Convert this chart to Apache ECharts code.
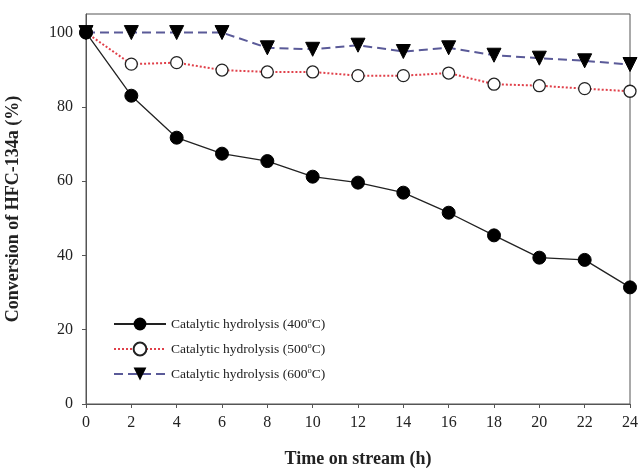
<!DOCTYPE html>
<html>
<head>
<meta charset="utf-8">
<script src="https://cdn.jsdelivr.net/npm/echarts@6/dist/echarts.min.js"></script>
<style>html,body{margin:0;padding:0;background:#fff}#c{width:640px;height:470px}</style>
</head>
<body>
<div id="c"></div>
<script>
var hours = [0, 2, 4, 6, 8, 10, 12, 14, 16, 18, 20, 22, 24];
var conv400 = [100, 83.0, 71.7, 67.4, 65.4, 61.2, 59.6, 56.9, 51.5, 45.4, 39.4, 38.8, 31.4];
var conv500 = [100, 91.5, 91.9, 89.9, 89.4, 89.4, 88.4, 88.4, 89.1, 86.1, 85.7, 84.9, 84.2];
var conv600 = [100, 100, 100, 100, 95.9, 95.5, 96.6, 94.9, 95.9, 93.9, 93.1, 92.4, 91.4];
var seriesNames = ['400', '500', '600'];
var yTicks = [0, 20, 40, 60, 80, 100];

function pairs(vals) { return hours.map(function (h, i) { return [h, vals[i]]; }); }
function legendName(t) { return 'Catalytic hydrolysis (' + t + '{sup|o}C)'; }

var serif = '"Liberation Serif","Times New Roman",serif';
var chart = echarts.init(document.getElementById('c'));
chart.setOption({
  animation: false,
  grid: { left: 86, right: 10, top: 14, bottom: 66, show: true, borderColor: '#555', borderWidth: 1, outerBoundsMode: 'none', containLabel: false },
  legend: {
    orient: 'vertical', left: 108, top: 311, itemWidth: 52, itemHeight: 16, itemGap: 9,
    data: seriesNames.map(legendName),
    textStyle: {
      fontFamily: serif, fontSize: 13.5, color: '#222', lineHeight: 16,
      rich: { sup: { fontFamily: serif, fontSize: 8.5, lineHeight: 10, verticalAlign: 'top', color: '#222' } }
    }
  },
  xAxis: {
    type: 'value', min: 0, max: 24, interval: 2,
    name: 'Time on stream (h)', nameLocation: 'middle', nameGap: 46,
    nameTextStyle: { fontFamily: serif, fontSize: 18, fontWeight: 'bold', color: '#222' },
    axisLine: { lineStyle: { color: '#555' } },
    axisTick: { inside: false, length: 4, lineStyle: { color: '#555' } },
    axisLabel: { fontFamily: serif, fontSize: 16, color: '#222', margin: 11 },
    splitLine: { show: false }
  },
  yAxis: {
    type: 'value', min: 0, max: 105,
    name: 'Conversion of HFC-134a (%)', nameLocation: 'middle', nameGap: 64,
    nameTextStyle: { fontFamily: serif, fontSize: 18, fontWeight: 'bold', color: '#222' },
    axisLine: { show: true, lineStyle: { color: '#555' } },
    axisTick: { show: true, length: 4, customValues: yTicks, lineStyle: { color: '#555' } },
    axisLabel: { fontFamily: serif, fontSize: 16, color: '#222', margin: 13, customValues: yTicks },
    splitLine: { show: false }
  },
  series: [
    {
      name: legendName('400'), type: 'line', data: pairs(conv400),
      symbol: 'circle', symbolSize: 13,
      itemStyle: { color: '#000', borderColor: '#000' },
      lineStyle: { color: '#222', width: 1.3, type: 'solid' }, z: 3
    },
    {
      name: legendName('500'), type: 'line', data: pairs(conv500),
      symbol: 'circle', symbolSize: 12,
      itemStyle: { color: '#fff', borderColor: '#222', borderWidth: 1.3 },
      lineStyle: { color: '#e0404a', width: 2, type: 'dotted' }, z: 2
    },
    {
      name: legendName('600'), type: 'line', data: pairs(conv600),
      symbol: 'triangle', symbolRotate: 180, symbolSize: 14,
      itemStyle: { color: '#000', borderColor: '#000' },
      lineStyle: { color: '#5a5a98', width: 2, type: [9, 5] }, z: 1
    }
  ]
});
</script>
</body>
</html>
